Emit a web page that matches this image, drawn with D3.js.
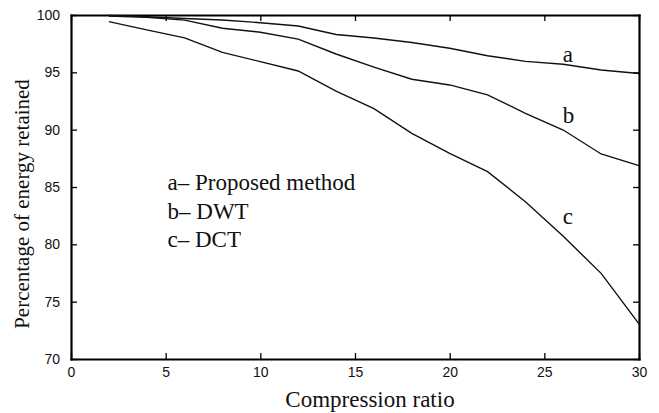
<!DOCTYPE html>
<meta charset="utf-8">
<html>
<head>
<script src="https://d3js.org/d3.v7.min.js"></script>
<style>
  body { margin: 0; background: white; }
  .tick text { font-family: "Liberation Sans", Arial, sans-serif; font-size: 14px; fill: #111; }
  .serif { font-family: "Liberation Serif", "Times New Roman", serif; fill: #111; }
</style>
</head>
<body>
<div id="plotArea"></div>
<script>
  // data
  var ratio = [2, 4, 6, 8, 10, 12, 14, 16, 18, 20, 22, 24, 26, 28, 30];
  var proposed = [99.95, 99.85, 99.7, 99.56, 99.33, 99.04, 98.3, 98.0, 97.6, 97.1, 96.45, 95.96, 95.7, 95.2, 94.9];
  var dwt = [99.9, 99.8, 99.55, 98.85, 98.5, 97.9, 96.6, 95.46, 94.4, 93.9, 93.03, 91.43, 89.97, 87.88, 86.86];
  var dct = [99.42, 98.7, 98.0, 96.74, 95.93, 95.12, 93.37, 91.83, 89.68, 87.94, 86.34, 83.72, 80.7, 77.47, 73.06];
  var xTicks = [0, 5, 10, 15, 20, 25, 30];
  var yTicks = [70, 75, 80, 85, 90, 95, 100];
  var curveLabels = ['a', 'b', 'c'];
  var legendLines = ['a\u2013 Proposed method', 'b\u2013 DWT', 'c\u2013 DCT'];

  const margin = {top: 15, right: 20, bottom: 54, left: 71},
        width = 659 - margin.left - margin.right,
        height = 413 - margin.top - margin.bottom;

  const svg = d3.select("#plotArea").append("svg")
      .attr("width", 659).attr("height", 413)
    .append("g")
      .attr("transform", `translate(${margin.left}, ${margin.top})`);

  var xScale = d3.scaleLinear().domain([0, 30]).range([0, width]);
  var yScale = d3.scaleLinear().domain([70, 100]).range([height, 0]);

  // axes with inward ticks on all four sides
  var xAxis = svg.append('g').attr("transform", "translate(0," + height + ")")
    .call(d3.axisBottom(xScale).tickValues(xTicks).tickSizeInner(-6).tickSizeOuter(0).tickPadding(8));
  var yAxis = svg.append('g')
    .call(d3.axisLeft(yScale).tickValues(yTicks).tickSizeInner(-6).tickSizeOuter(0).tickPadding(11));
  var topAxis = svg.append('g')
    .call(d3.axisTop(xScale).tickValues(xTicks).tickSizeInner(-6).tickSizeOuter(0).tickFormat(""));
  var rightAxis = svg.append('g').attr("transform", "translate(" + width + ",0)")
    .call(d3.axisRight(yScale).tickValues(yTicks).tickSizeInner(-6).tickSizeOuter(0).tickFormat(""));

  svg.selectAll('.domain').attr('stroke', '#000').attr('stroke-width', 2.2).attr('stroke-linecap', 'square');
  svg.selectAll('.tick line').attr('stroke', '#000').attr('stroke-width', 1.3);

  // the three curves
  var series = [proposed, dwt, dct];
  var line = d3.line()
    .x(function(d, i) { return xScale(ratio[i]); })
    .y(function(d) { return yScale(d); });

  svg.append('g').selectAll('path.curve')
    .data(series).enter().append('path')
    .attr('class', 'curve')
    .attr('d', line)
    .attr('fill', 'none')
    .attr('stroke', '#111')
    .attr('stroke-width', 1.4);

  // curve letters next to the lines
  var letterPos = [[26, 95.9], [26, 90.6], [26, 81.8]];
  svg.selectAll('text.letter')
    .data(curveLabels).enter().append('text')
    .attr('class', 'serif letter')
    .attr('x', function(d, i) { return xScale(letterPos[i][0]) - 0.5; })
    .attr('y', function(d, i) { return yScale(letterPos[i][1]); })
    .style('font-size', '23px')
    .text(function(d) { return d; });

  // legend text
  svg.selectAll('text.legend')
    .data(legendLines).enter().append('text')
    .attr('class', 'serif legend')
    .attr('x', xScale(5.1))
    .attr('y', function(d, i) { return yScale(84.7) + i * 28.5; })
    .style('font-size', '23px')
    .text(function(d) { return d; });

  // axis titles
  svg.append('text')
    .attr('class', 'serif')
    .attr('x', 299)
    .attr('y', height + 48)
    .style('text-anchor', 'middle')
    .style('font-size', '23px')
    .text('Compression ratio');

  svg.append('text')
    .attr('class', 'serif')
    .attr('transform', 'rotate(-90)')
    .attr('x', -(height / 2) - 17)
    .attr('y', -margin.left + 29)
    .style('text-anchor', 'middle')
    .style('font-size', '21px')
    .text('Percentage of energy retained');
</script>
</body>
</html>
